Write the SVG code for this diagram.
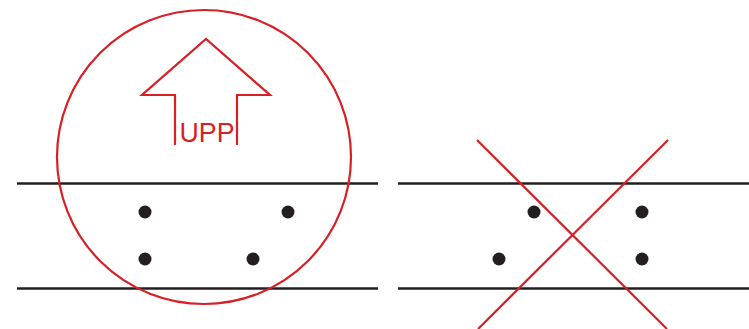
<svg xmlns="http://www.w3.org/2000/svg" width="749" height="329" viewBox="0 0 749 329">
<style>
.rail{stroke:#231f20;stroke-width:2.5;fill:none}
.red{stroke:#d71f26;stroke-width:2.2;fill:none}
.dot{fill:#231f20}
.lbl{fill:#d71f26;font-family:"Liberation Sans",Arial,sans-serif;font-size:28px;text-anchor:middle}
</style>
<rect width="749" height="329" fill="#fff"/>
<g id="left-panel">
<line class="rail" x1="17" y1="183.5" x2="378" y2="183.5"/>
<line class="rail" x1="17" y1="288.5" x2="378" y2="288.5"/>
<circle class="dot" cx="145" cy="212" r="6.5"/>
<circle class="dot" cx="288" cy="212" r="6.5"/>
<circle class="dot" cx="145" cy="259" r="6.5"/>
<circle class="dot" cx="253" cy="259" r="6.5"/>
<circle class="red" cx="204" cy="157" r="147"/>
<polyline class="red" points="175,145 175,95 142,95 206,39 270,95 237,95 237,145"/>
<text class="lbl" x="207" y="142" textLength="55" lengthAdjust="spacingAndGlyphs">UPP</text>
</g>
<g id="right-panel">
<line class="rail" x1="398" y1="183.5" x2="749" y2="183.5"/>
<line class="rail" x1="398" y1="288.5" x2="749" y2="288.5"/>
<circle class="dot" cx="534" cy="212" r="6.5"/>
<circle class="dot" cx="642" cy="212" r="6.5"/>
<circle class="dot" cx="499" cy="259" r="6.5"/>
<circle class="dot" cx="642" cy="259" r="6.5"/>
<line class="red" x1="477" y1="140" x2="667" y2="329"/>
<line class="red" x1="668" y1="140" x2="478" y2="329"/>
</g>
</svg>
